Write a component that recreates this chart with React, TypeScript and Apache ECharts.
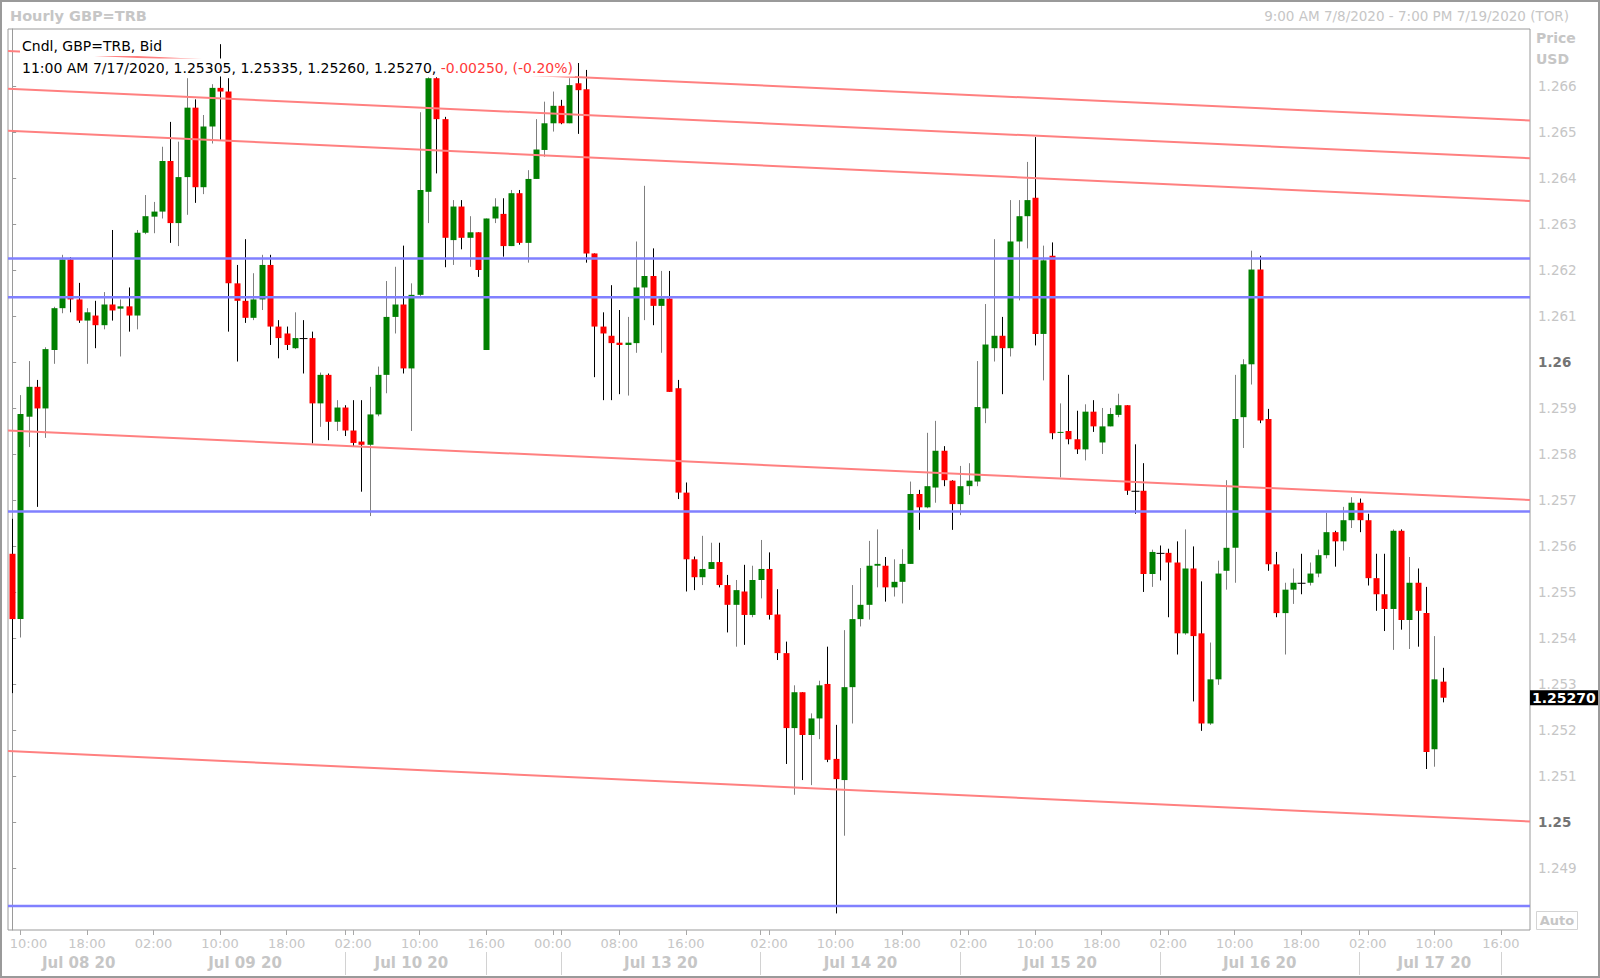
import React, { useEffect, useRef } from 'react';
import * as echarts from 'echarts';

// ---------- DATA ----------
const opens = [
  1.25583, 1.25441, 1.25881, 1.25946, 1.25899, 1.26026, 1.26117, 1.26223, 1.26136, 1.26090,
  1.26101, 1.26080, 1.26125, 1.26116, 1.26121, 1.26101, 1.26281, 1.26316, 1.26327, 1.26437,
  1.26302, 1.26402, 1.26553, 1.26380, 1.26512, 1.26596, 1.26588, 1.26171, 1.26133, 1.26096,
  1.26136, 1.26211, 1.26077, 1.26062, 1.26030, 1.26052, 1.26052, 1.25910, 1.25972, 1.25870,
  1.25901, 1.25851, 1.25827, 1.25820, 1.25886, 1.25972, 1.26098, 1.26125, 1.25986, 1.26146,
  1.26370, 1.26617, 1.26528, 1.26265, 1.26338, 1.26270, 1.26282, 1.26026, 1.26312, 1.26322,
  1.26252, 1.26367, 1.26259, 1.26398, 1.26461, 1.26519, 1.26557, 1.26519, 1.26606, 1.26593,
  1.26236, 1.26077, 1.26057, 1.26042, 1.26037, 1.26041, 1.26162, 1.26187, 1.26122, 1.26138,
  1.25943, 1.25716, 1.25571, 1.25532, 1.25550, 1.25565, 1.25515, 1.25472, 1.25501, 1.25450,
  1.25526, 1.25550, 1.25451, 1.25367, 1.25204, 1.25282, 1.25189, 1.25225, 1.25300, 1.25137,
  1.25091, 1.25293, 1.25441, 1.25472, 1.25557, 1.25557, 1.25510, 1.25522, 1.25561, 1.25713,
  1.25684, 1.25727, 1.25807, 1.25742, 1.25691, 1.25730, 1.25740, 1.25899, 1.26030, 1.26057,
  1.26030, 1.26262, 1.26317, 1.26357, 1.26061, 1.26231, 1.25846, 1.25850, 1.25832, 1.25810,
  1.25892, 1.25825, 1.25860, 1.25885, 1.25906, 1.25720, 1.25720, 1.25539, 1.25585, 1.25585,
  1.25564, 1.25410, 1.25551, 1.25410, 1.25214, 1.25310, 1.25546, 1.25596, 1.25880, 1.25995,
  1.26201, 1.25876, 1.25560, 1.25454, 1.25505, 1.25520, 1.25520, 1.25540, 1.25580, 1.25630,
  1.25610, 1.25656, 1.25694, 1.25656, 1.25530, 1.25495, 1.25463, 1.25633, 1.25439, 1.25520,
  1.25454, 1.25158, 1.25305,
];
const highs = [
  1.25659, 1.25928, 1.26002, 1.25961, 1.26032, 1.26120, 1.26233, 1.26228, 1.26172, 1.26117,
  1.26133, 1.26152, 1.26287, 1.26136, 1.26162, 1.26287, 1.26363, 1.26348, 1.26468, 1.26522,
  1.26479, 1.26617, 1.26571, 1.26537, 1.26604, 1.26691, 1.26617, 1.26211, 1.26267, 1.26193,
  1.26233, 1.26233, 1.26091, 1.26077, 1.26108, 1.26091, 1.26066, 1.25977, 1.25975, 1.25917,
  1.25906, 1.25917, 1.25917, 1.25946, 1.25990, 1.26176, 1.26207, 1.26253, 1.26171, 1.26543,
  1.26619, 1.26619, 1.26533, 1.26352, 1.26352, 1.26317, 1.26282, 1.26312, 1.26356, 1.26356,
  1.26374, 1.26374, 1.26417, 1.26528, 1.26566, 1.26588, 1.26570, 1.26617, 1.26650, 1.26635,
  1.26236, 1.26108, 1.26167, 1.26113, 1.26098, 1.26262, 1.26383, 1.26247, 1.26198, 1.26198,
  1.25961, 1.25738, 1.25577, 1.25622, 1.25607, 1.25607, 1.25537, 1.25526, 1.25559, 1.25557,
  1.25613, 1.25586, 1.25506, 1.25392, 1.25297, 1.25282, 1.25236, 1.25307, 1.25381, 1.25211,
  1.25417, 1.25515, 1.25552, 1.25611, 1.25636, 1.25576, 1.25571, 1.25593, 1.25740, 1.25722,
  1.25846, 1.25872, 1.25817, 1.25743, 1.25774, 1.25780, 1.26002, 1.26126, 1.26267, 1.26098,
  1.26352, 1.26352, 1.26435, 1.26489, 1.26253, 1.26260, 1.25910, 1.25972, 1.25894, 1.25908,
  1.25917, 1.25900, 1.25900, 1.25931, 1.25906, 1.25821, 1.25780, 1.25592, 1.25601, 1.25594,
  1.25610, 1.25636, 1.25599, 1.25523, 1.25390, 1.25568, 1.25743, 1.25972, 1.26006, 1.26242,
  1.26231, 1.25898, 1.25587, 1.25520, 1.25551, 1.25583, 1.25564, 1.25592, 1.25672, 1.25633,
  1.25685, 1.25706, 1.25703, 1.25670, 1.25583, 1.25583, 1.25636, 1.25636, 1.25576, 1.25551,
  1.25511, 1.25404, 1.25335,
];
const lows = [
  1.25280, 1.25401, 1.25815, 1.25685, 1.25835, 1.25996, 1.26106, 1.26108, 1.26085, 1.25996,
  1.26030, 1.26071, 1.26090, 1.26012, 1.26066, 1.26071, 1.26278, 1.26280, 1.26312, 1.26259,
  1.26252, 1.26320, 1.26346, 1.26365, 1.26475, 1.26483, 1.26066, 1.26001, 1.26085, 1.26091,
  1.26113, 1.26037, 1.26008, 1.26026, 1.26028, 1.25975, 1.25823, 1.25859, 1.25830, 1.25850,
  1.25839, 1.25817, 1.25718, 1.25665, 1.25882, 1.25932, 1.26062, 1.25975, 1.25850, 1.26140,
  1.26302, 1.26410, 1.26206, 1.26211, 1.26245, 1.26207, 1.26185, 1.26026, 1.26302, 1.26229,
  1.26252, 1.26255, 1.26216, 1.26398, 1.26446, 1.26501, 1.26517, 1.26519, 1.26496, 1.26216,
  1.25967, 1.25917, 1.25917, 1.25930, 1.25927, 1.26020, 1.26091, 1.26080, 1.26020, 1.25935,
  1.25702, 1.25501, 1.25504, 1.25515, 1.25550, 1.25510, 1.25412, 1.25381, 1.25385, 1.25445,
  1.25486, 1.25440, 1.25352, 1.25126, 1.25059, 1.25091, 1.25080, 1.25180, 1.25130, 1.24801,
  1.24970, 1.25214, 1.25425, 1.25440, 1.25510, 1.25479, 1.25490, 1.25475, 1.25561, 1.25635,
  1.25682, 1.25694, 1.25730, 1.25635, 1.25667, 1.25711, 1.25730, 1.25867, 1.26001, 1.25930,
  1.26012, 1.26134, 1.26247, 1.26036, 1.25960, 1.25832, 1.25749, 1.25821, 1.25800, 1.25786,
  1.25848, 1.25800, 1.25860, 1.25880, 1.25711, 1.25670, 1.25500, 1.25511, 1.25525, 1.25445,
  1.25364, 1.25407, 1.25262, 1.25198, 1.25211, 1.25298, 1.25505, 1.25520, 1.25813, 1.25951,
  1.25867, 1.25546, 1.25445, 1.25364, 1.25474, 1.25495, 1.25514, 1.25532, 1.25573, 1.25555,
  1.25590, 1.25639, 1.25630, 1.25514, 1.25459, 1.25415, 1.25374, 1.25418, 1.25376, 1.25381,
  1.25115, 1.25120, 1.25260,
];
const closes = [
  1.25441, 1.25887, 1.25946, 1.25899, 1.26028, 1.26117, 1.26223, 1.26136, 1.26090, 1.26108,
  1.26080, 1.26125, 1.26112, 1.26121, 1.26101, 1.26281, 1.26317, 1.26327, 1.26437, 1.26302,
  1.26402, 1.26553, 1.26380, 1.26512, 1.26596, 1.26588, 1.26171, 1.26133, 1.26096, 1.26136,
  1.26211, 1.26077, 1.26052, 1.26037, 1.26052, 1.26052, 1.25910, 1.25972, 1.25870, 1.25901,
  1.25851, 1.25824, 1.25820, 1.25886, 1.25972, 1.26098, 1.26125, 1.25986, 1.26146, 1.26374,
  1.26617, 1.26528, 1.26270, 1.26338, 1.26270, 1.26282, 1.26200, 1.26312, 1.26338, 1.26252,
  1.26367, 1.26259, 1.26398, 1.26462, 1.26519, 1.26557, 1.26519, 1.26602, 1.26591, 1.26236,
  1.26077, 1.26062, 1.26041, 1.26037, 1.26042, 1.26162, 1.26187, 1.26122, 1.26138, 1.25935,
  1.25716, 1.25571, 1.25532, 1.25550, 1.25565, 1.25515, 1.25472, 1.25504, 1.25450, 1.25526,
  1.25550, 1.25450, 1.25367, 1.25204, 1.25282, 1.25189, 1.25225, 1.25297, 1.25135, 1.25093,
  1.25293, 1.25441, 1.25472, 1.25557, 1.25561, 1.25510, 1.25522, 1.25561, 1.25713, 1.25684,
  1.25730, 1.25807, 1.25743, 1.25691, 1.25730, 1.25742, 1.25902, 1.26038, 1.26057, 1.26030,
  1.26262, 1.26317, 1.26352, 1.26061, 1.26221, 1.25845, 1.25848, 1.25832, 1.25810, 1.25892,
  1.25860, 1.25860, 1.25887, 1.25906, 1.25720, 1.25720, 1.25539, 1.25587, 1.25585, 1.25564,
  1.25410, 1.25551, 1.25404, 1.25214, 1.25310, 1.25540, 1.25596, 1.25876, 1.25995, 1.26201,
  1.25873, 1.25560, 1.25454, 1.25505, 1.25520, 1.25520, 1.25540, 1.25580, 1.25630, 1.25610,
  1.25656, 1.25694, 1.25656, 1.25530, 1.25495, 1.25463, 1.25633, 1.25439, 1.25520, 1.25459,
  1.25152, 1.25310, 1.25270,
];

const categoryCount = 183;
const hourTicks: [number, string][] = [
  [1, '10:00'], [9, '18:00'], [17, '02:00'], [25, '10:00'], [33, '18:00'], [41, '02:00'],
  [49, '10:00'], [57, '16:00'], [65, '00:00'], [73, '08:00'], [81, '16:00'], [91, '02:00'],
  [99, '10:00'], [107, '18:00'], [115, '02:00'], [123, '10:00'], [131, '18:00'], [139, '02:00'],
  [147, '10:00'], [155, '18:00'], [163, '02:00'], [171, '10:00'], [179, '16:00'],
];
const daySeparators = [40, 57, 66, 90, 114, 138, 162, 179];
const dayLabels: [number, string][] = [
  [8, 'Jul 08 20'], [28, 'Jul 09 20'], [48, 'Jul 10 20'], [78, 'Jul 13 20'],
  [102, 'Jul 14 20'], [126, 'Jul 15 20'], [150, 'Jul 16 20'], [171, 'Jul 17 20'],
];
const priceTicks = [
  1.249, 1.25, 1.251, 1.252, 1.253, 1.254, 1.255, 1.256, 1.257, 1.258,
  1.259, 1.26, 1.261, 1.262, 1.263, 1.264, 1.265, 1.266,
];
const boldTicks = [1.25, 1.26];
const trendStart = [1.26676, 1.26594, 1.26503, 1.25851, 1.25154];
const trendEnd = [1.26525, 1.26443, 1.2635, 1.257, 1.25001];
const levels = [1.26225, 1.26141, 1.25675, 1.24817];
const lastPrice = 1.2527;
const yMin = 1.24765;
const yMax = 1.26724;

const titleText = 'Hourly GBP=TRB';
const rangeText = '9:00 AM 7/8/2020 - 7:00 PM 7/19/2020 (TOR)';
const legendLine1 = 'Cndl, GBP=TRB, Bid';
const legendStamp = '11:00 AM 7/17/2020';
const legendChange = '-0.00250, (-0.20%)';

// ---------- CHART ----------
const FONT = '"DejaVu Sans", Verdana, sans-serif';
const LIGHT = '#c6c6c6';

export default function App() {
  const ref = useRef<HTMLDivElement>(null);

  useEffect(() => {
    if (!ref.current) return;
    const chart = echarts.init(ref.current, undefined, { renderer: 'svg' });

    const categories = Array.from({ length: categoryCount }, (_, i) => String(i));
    const hourMap = new Map<number, string>(hourTicks);
    const dayMap = new Map<number, string>(dayLabels);
    const tickSet = new Set<number>([...hourTicks.map((t) => t[0]), ...daySeparators]);
    const sepSet = new Set<number>(daySeparators);
    const n = opens.length;
    const candleData = opens.map((o, i) => [i, o, closes[i], lows[i], highs[i]]);

    const renderCandle = (params: any, api: any) => {
      const idx = api.value(0);
      const o = api.value(1);
      const c = api.value(2);
      const l = api.value(3);
      const h = api.value(4);
      const pO = api.coord([idx, o]);
      const pC = api.coord([idx, c]);
      const pL = api.coord([idx, l]);
      const pH = api.coord([idx, h]);
      const x = Math.round(pO[0]) + 0.5;
      const up = c > o;
      const down = c < o;
      const fill = up ? '#008000' : down ? '#ff0000' : '#000000';
      const wick = up ? '#7f7f7f' : '#000000';
      const top = Math.min(pO[1], pC[1]);
      const hgt = Math.max(1, Math.abs(pO[1] - pC[1]));
      const bw = up || down ? 6 : 8;
      return {
        type: 'group',
        children: [
          {
            type: 'line',
            shape: { x1: x, y1: pH[1], x2: x, y2: pL[1] },
            style: { stroke: wick, lineWidth: 1 },
          },
          {
            type: 'rect',
            shape: { x: x - bw / 2, y: top, width: bw, height: hgt },
            style: { fill },
          },
        ],
      };
    };

    const series: any[] = [
      {
        type: 'custom',
        name: 'Cndl',
        xAxisIndex: 0,
        yAxisIndex: 0,
        data: candleData,
        encode: { x: 0, y: [1, 2, 3, 4] },
        renderItem: renderCandle,
        clip: true,
        silent: true,
        z: 2,
      },
    ];
    trendStart.forEach((s, k) => {
      series.push({
        type: 'line',
        xAxisIndex: 2,
        yAxisIndex: 0,
        data: [
          [-0.5, s],
          [categoryCount - 0.5, trendEnd[k]],
        ],
        symbol: 'none',
        silent: true,
        lineStyle: { color: '#ff8080', width: 2 },
        z: 3,
      });
    });
    levels.forEach((v, k) => {
      const s: any = {
        type: 'line',
        xAxisIndex: 2,
        yAxisIndex: 0,
        data: [
          [-0.5, v],
          [categoryCount - 0.5, v],
        ],
        symbol: 'none',
        silent: true,
        lineStyle: { color: '#8080ff', width: 2.5 },
        z: 3,
      };
      if (k === 0) {
        s.markLine = {
          symbol: 'none',
          silent: true,
          animation: false,
          precision: 5,
          lineStyle: { width: 0, color: 'rgba(0,0,0,0)' },
          data: [{ yAxis: lastPrice }],
          label: {
            show: true,
            position: 'end',
            distance: 0,
            formatter: lastPrice.toFixed(5),
            backgroundColor: '#000000',
            color: '#ffffff',
            fontWeight: 'bold',
            fontFamily: FONT,
            fontSize: 14,
            padding: [1, 4, 0, 2],
          },
        };
      }
      series.push(s);
    });

    const option: any = {
      animation: false,
      backgroundColor: '#ffffff',
      grid: {
        left: 8,
        right: 70,
        top: 29,
        bottom: 48,
        show: true,
        borderColor: '#9a9a9a',
        borderWidth: 1,
        backgroundColor: '#ffffff',
      },
      xAxis: [
        {
          type: 'category',
          data: categories,
          boundaryGap: true,
          axisLine: { show: false },
          axisTick: {
            show: true,
            alignWithLabel: true,
            interval: (i: number) => tickSet.has(i),
            length: 5,
            lineStyle: { color: '#a8a8a8' },
          },
          axisLabel: {
            interval: (i: number) => hourMap.has(i),
            formatter: (v: string) => {
              const i = Number(v);
              const t = hourMap.get(i) ?? '';
              return i === hourTicks[0][0] ? `{f|${t}}` : t;
            },
            color: LIGHT,
            fontFamily: FONT,
            fontSize: 13,
            margin: 7,
            rich: {
              f: { color: LIGHT, fontFamily: FONT, fontSize: 13, padding: [0, 0, 0, 16] },
            },
          },
          splitLine: { show: false },
        },
        {
          type: 'category',
          data: categories,
          position: 'bottom',
          offset: 22,
          boundaryGap: true,
          axisLine: { show: false },
          axisTick: {
            show: true,
            alignWithLabel: true,
            interval: (i: number) => sepSet.has(i),
            length: 23,
            lineStyle: { color: '#d2d2d2' },
          },
          axisLabel: {
            interval: (i: number) => dayMap.has(i),
            formatter: (v: string) => dayMap.get(Number(v)) ?? '',
            color: LIGHT,
            fontFamily: FONT,
            fontSize: 15,
            fontWeight: 'bold',
            margin: 3,
          },
          splitLine: { show: false },
        },
        { type: 'value', min: -0.5, max: categoryCount - 0.5, show: false },
      ],
      yAxis: {
        type: 'value',
        position: 'right',
        min: yMin,
        max: yMax,
        splitLine: { show: false },
        axisLine: { show: true, lineStyle: { color: '#9a9a9a' } },
        axisTick: { show: true, length: 4, customValues: priceTicks, lineStyle: { color: '#9a9a9a' } },
        axisLabel: {
          customValues: priceTicks,
          margin: 8,
          color: LIGHT,
          fontFamily: FONT,
          fontSize: 13.5,
          formatter: (v: number) => {
            const bold = boldTicks.some((b) => Math.abs(b - v) < 1e-7);
            return bold ? `{b|${v.toFixed(2)}}` : v.toFixed(3);
          },
          rich: {
            b: { fontWeight: 'bold', color: '#747474', fontFamily: FONT, fontSize: 13.5 },
          },
        },
      },
      graphic: [
        {
          type: 'rect',
          silent: true,
          z: 100,
          shape: { x: 1, y: 1, width: 1598, height: 976 },
          style: { fill: 'rgba(0,0,0,0)', stroke: '#9a9a9a', lineWidth: 2 },
        },
        {
          type: 'text',
          z: 100,
          x: 10,
          y: 15.5,
          style: { text: titleText, font: `bold 14.5px ${FONT}`, fill: LIGHT, textVerticalAlign: 'middle' },
        },
        {
          type: 'text',
          z: 100,
          x: 1569,
          y: 15.5,
          style: {
            text: rangeText,
            font: `13.5px ${FONT}`,
            fill: LIGHT,
            textAlign: 'right',
            textVerticalAlign: 'middle',
          },
        },
        {
          type: 'text',
          z: 100,
          x: 1536,
          y: 38,
          style: { text: 'Price', font: `bold 14px ${FONT}`, fill: LIGHT, textVerticalAlign: 'middle' },
        },
        {
          type: 'text',
          z: 100,
          x: 1536,
          y: 59,
          style: { text: 'USD', font: `bold 14px ${FONT}`, fill: LIGHT, textVerticalAlign: 'middle' },
        },
        {
          type: 'text',
          z: 100,
          x: 20,
          y: 46,
          style: {
            text: legendLine1,
            font: `14px ${FONT}`,
            fill: '#000000',
            textVerticalAlign: 'middle',
            backgroundColor: '#ffffff',
            padding: [3, 2, 3, 2],
          },
        },
        {
          type: 'text',
          z: 100,
          x: 20,
          y: 67.5,
          style: {
            text: `{a|${legendStamp}, ${opens[n - 1].toFixed(5)}, ${highs[n - 1].toFixed(5)}, ${lows[n - 1].toFixed(
              5
            )}, ${closes[n - 1].toFixed(5)}, }{c|${legendChange}}`,
            font: `14px ${FONT}`,
            textVerticalAlign: 'middle',
            backgroundColor: '#ffffff',
            padding: [2, 2, 2, 2],
            rich: {
              a: { fill: '#000000', font: `14px ${FONT}` },
              c: { fill: '#ff3a3a', font: `14px ${FONT}` },
            },
          },
        },
        {
          type: 'rect',
          z: 100,
          silent: true,
          shape: { x: 1536.5, y: 911.5, width: 41, height: 18 },
          style: { fill: '#ffffff', stroke: '#d4d4d4', lineWidth: 1 },
        },
        {
          type: 'text',
          z: 101,
          x: 1557,
          y: 920.5,
          style: {
            text: 'Auto',
            font: `bold 13px ${FONT}`,
            fill: LIGHT,
            textAlign: 'center',
            textVerticalAlign: 'middle',
          },
        },
      ],
      series,
    };

    chart.setOption(option);
    return () => {
      chart.dispose();
    };
  }, []);

  return (
    <div
      ref={ref}
      style={{ position: 'absolute', left: 0, top: 0, width: 1600, height: 978, background: '#fff' }}
    />
  );
}
